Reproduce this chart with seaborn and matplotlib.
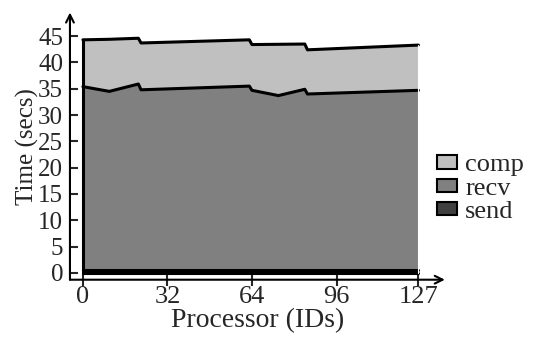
import numpy as np
import matplotlib
matplotlib.use("Agg")
import matplotlib.pyplot as plt
import matplotlib.patches as mpatches
import seaborn as sns

# ─────────────────────────────────────────
# DATA
# ─────────────────────────────────────────

proc_ids = [0, 10, 21, 22, 63, 64, 74, 84, 85, 127]
send     = [0.6, 0.6, 0.6, 0.6, 0.6, 0.6, 0.6, 0.6, 0.6, 0.6]
recv     = [34.8, 33.9, 35.3, 34.2, 34.9, 34.1, 33.1, 34.3, 33.4, 34.1]
comp     = [8.9, 9.9, 8.7, 8.9, 8.8, 8.7, 9.75, 8.6, 8.4, 8.6]

x_ticks  = [0, 32, 64, 96, 127]
y_ticks  = [0, 5, 10, 15, 20, 25, 30, 35, 40, 45]

layer_names  = ["comp", "recv", "send"]
layer_colors = {"comp": "#c0c0c0", "recv": "#808080", "send": "#404040"}

# ─────────────────────────────────────────
# STYLE
# ─────────────────────────────────────────

sns.set_style("ticks")
plt.rcParams["font.family"] = ["Liberation Serif", "DejaVu Serif"]
plt.rcParams["font.size"] = 18

fig = plt.figure(figsize=(5.34, 3.37), dpi=100)
ax = fig.add_axes([0.131, 0.17, 0.702, 0.793])

x = np.array(proc_ids, dtype=float)
s = np.array(send)
r = s + np.array(recv)
t = r + np.array(comp)

# stacked areas
ax.fill_between(x, 0, s, color="black", lw=0)
ax.fill_between(x, s, r, color=layer_colors["recv"], lw=0)
ax.fill_between(x, r, t, color=layer_colors["comp"], lw=0)

# outlines
sns.lineplot(x=x, y=t, ax=ax, color="black", lw=2.2, estimator=None)
sns.lineplot(x=x, y=r, ax=ax, color="black", lw=2.2, estimator=None)
sns.lineplot(x=x, y=s, ax=ax, color="black", lw=2.2, estimator=None)
ax.plot([x[0], x[0]], [0, t[0]], color="black", lw=2.2)
ax.plot([x[0], x[-1]], [0, 0], color="black", lw=2.2)
ax.plot([x[-1], x[-1]], [0, t[-1]], color="white", lw=0.8)

ax.set_xlim(-4.9, 137)
ax.set_ylim(-1.3, 49.5)
ax.set_xticks(x_ticks)
ax.set_yticks(y_ticks)
ax.tick_params(axis="x", direction="inout", length=9, width=1.5, labelsize=19, pad=0)
ax.tick_params(axis="y", direction="in", length=6, width=1.5, labelsize=18, pad=5)

for sp in ax.spines.values():
    sp.set_visible(False)

# arrowed axes
ax.annotate("", xy=(1, 0), xytext=(0, 0), xycoords="axes fraction",
            arrowprops=dict(arrowstyle="->", lw=1.5, color="black",
                            shrinkA=0, shrinkB=0, mutation_scale=14))
ax.annotate("", xy=(0, 1), xytext=(0, 0), xycoords="axes fraction",
            arrowprops=dict(arrowstyle="->", lw=1.5, color="black",
                            shrinkA=0, shrinkB=0, mutation_scale=14))

ax.set_xlabel("Processor (IDs)", fontsize=20, labelpad=0)
ax.set_ylabel("Time (secs)", fontsize=18, labelpad=-1)

handles = [mpatches.Patch(facecolor=layer_colors[n], edgecolor="black", lw=1.5, label=n)
           for n in layer_names]
fig.legend(handles=handles, loc="center left", bbox_to_anchor=(0.773, 0.44),
           frameon=False, fontsize=19, handlelength=0.78, handleheight=0.4,
           handletextpad=0.3, labelspacing=0.05)

fig.savefig("out.png", dpi=100)
